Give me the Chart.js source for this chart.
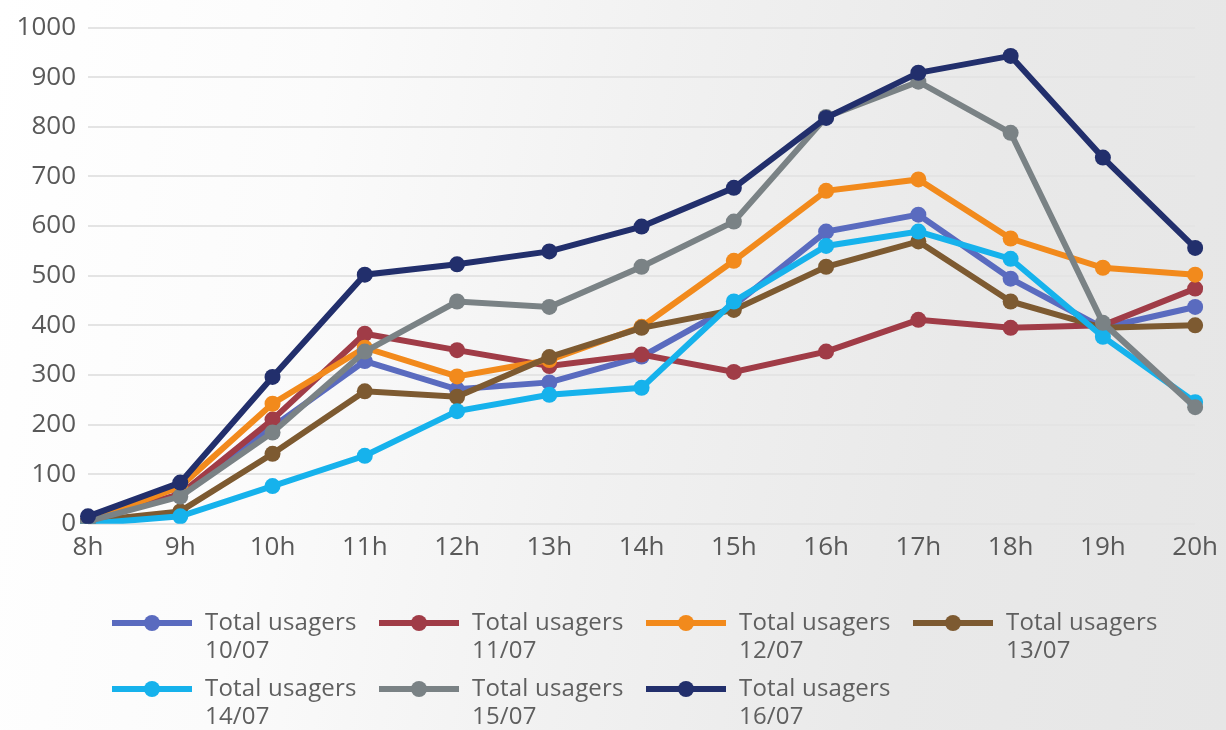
<!DOCTYPE html>
<html>
<head>
<meta charset="utf-8">
<script src="https://cdn.jsdelivr.net/npm/chart.js@4/dist/chart.umd.min.js"></script>
<style>
  html, body { margin: 0; padding: 0; }
  body {
    width: 1226px; height: 730px; overflow: hidden; position: relative;
    background: linear-gradient(100deg, #ffffff 0%, #fbfbfb 25%, #f1f1f1 50%, #e9e9e9 75%, #e6e6e6 100%);
    font-family: "Open Sans", sans-serif;
  }
  #wrap { position: absolute; left: 0; top: 0; width: 1226px; height: 571px; }
  #legend { position: absolute; left: 0; top: 0; width: 1226px; height: 730px; pointer-events: none; }
  .item { position: absolute; display: flex; align-items: flex-start; }
  .item svg { flex: none; margin-top: 6px; }
  .item .txt { margin-left: 13px; font-size: 24px; line-height: 28px; color: #5f5f5f; white-space: pre-line; letter-spacing: 0.2px; }
</style>
</head>
<body>
<div id="wrap"><canvas id="c"></canvas></div>
<div id="legend"></div>
<script>
const hours = ["8h","9h","10h","11h","12h","13h","14h","15h","16h","17h","18h","19h","20h"];
const seriesNames = [
  "Total usagers\n10/07",
  "Total usagers\n11/07",
  "Total usagers\n12/07",
  "Total usagers\n13/07",
  "Total usagers\n14/07",
  "Total usagers\n15/07",
  "Total usagers\n16/07"
];
const usagers1007 = [5, 60, 195, 328, 271, 285, 337, 440, 589, 623, 494, 395, 437];
const usagers1107 = [5, 60, 210, 383, 350, 318, 341, 306, 347, 411, 395, 400, 474];
const usagers1207 = [5, 75, 242, 355, 297, 330, 397, 530, 671, 694, 575, 516, 502];
const usagers1307 = [5, 25, 141, 267, 256, 336, 395, 431, 518, 569, 448, 395, 400];
const usagers1407 = [0, 15, 76, 137, 227, 260, 274, 448, 560, 589, 534, 377, 245];
const usagers1507 = [5, 55, 184, 347, 448, 437, 518, 609, 820, 891, 788, 405, 235];
const usagers1607 = [15, 83, 296, 502, 523, 549, 599, 677, 818, 909, 943, 738, 556];
const yTicks = [0,100,200,300,400,500,600,700,800,900,1000];

const allSeries = [usagers1007, usagers1107, usagers1207, usagers1307, usagers1407, usagers1507, usagers1607];
const colors = ["#5a6bbf", "#a03c47", "#f28a1c", "#7d5a31", "#16b2ec", "#7a8285", "#222f6c"];

const datasets = allSeries.map((d, i) => ({
  label: seriesNames[i],
  data: d,
  borderColor: colors[i],
  backgroundColor: colors[i],
  pointBackgroundColor: colors[i],
  pointBorderColor: colors[i],
  borderWidth: 6,
  pointRadius: 8,
  pointBorderWidth: 0,
  tension: 0,
  order: allSeries.length - i
}));

new Chart(document.getElementById('c'), {
  type: 'line',
  data: { labels: hours, datasets },
  options: {
    responsive: true,
    maintainAspectRatio: false,
    animation: false,
    layout: { padding: { left: 12, right: 30, top: 26, bottom: 0 } },
    plugins: { legend: { display: false }, tooltip: { enabled: false } },
    scales: {
      x: {
        offset: false,
        grid: { display: false, drawTicks: false },
        border: { display: false },
        ticks: { color: '#595959', font: { family: 'Open Sans', size: 26 }, padding: 8, maxRotation: 0, autoSkip: false }
      },
      y: {
        min: 0, max: 1000,
        afterBuildTicks: (s) => { s.ticks = yTicks.map(v => ({ value: v })); },
        afterFit: (s) => { s.width = 76; },
        grid: { color: '#e4e4e4', lineWidth: 2, drawTicks: false },
        border: { display: false },
        ticks: { color: '#595959', font: { family: 'Open Sans', size: 26 }, padding: 12, callback: (v) => String(v) }
      }
    }
  }
});

// HTML legend built from the series names / colours
const legend = document.getElementById('legend');
seriesNames.forEach((name, i) => {
  const col = i % 4, row = Math.floor(i / 4);
  const item = document.createElement('div');
  item.className = 'item';
  item.style.left = (112 + col * 267) + 'px';
  item.style.top = (607 + row * 66) + 'px';
  const ns = 'http://www.w3.org/2000/svg';
  const svg = document.createElementNS(ns, 'svg');
  svg.setAttribute('width', '80'); svg.setAttribute('height', '20');
  const ln = document.createElementNS(ns, 'line');
  ln.setAttribute('x1', '0'); ln.setAttribute('x2', '80');
  ln.setAttribute('y1', '10'); ln.setAttribute('y2', '10');
  ln.setAttribute('stroke', colors[i]); ln.setAttribute('stroke-width', '6');
  const c = document.createElementNS(ns, 'circle');
  c.setAttribute('cx', '40'); c.setAttribute('cy', '10'); c.setAttribute('r', '8');
  c.setAttribute('fill', colors[i]);
  svg.appendChild(ln); svg.appendChild(c);
  const t = document.createElement('div');
  t.className = 'txt';
  t.textContent = name;
  item.appendChild(svg); item.appendChild(t);
  legend.appendChild(item);
});
</script>
</body>
</html>
